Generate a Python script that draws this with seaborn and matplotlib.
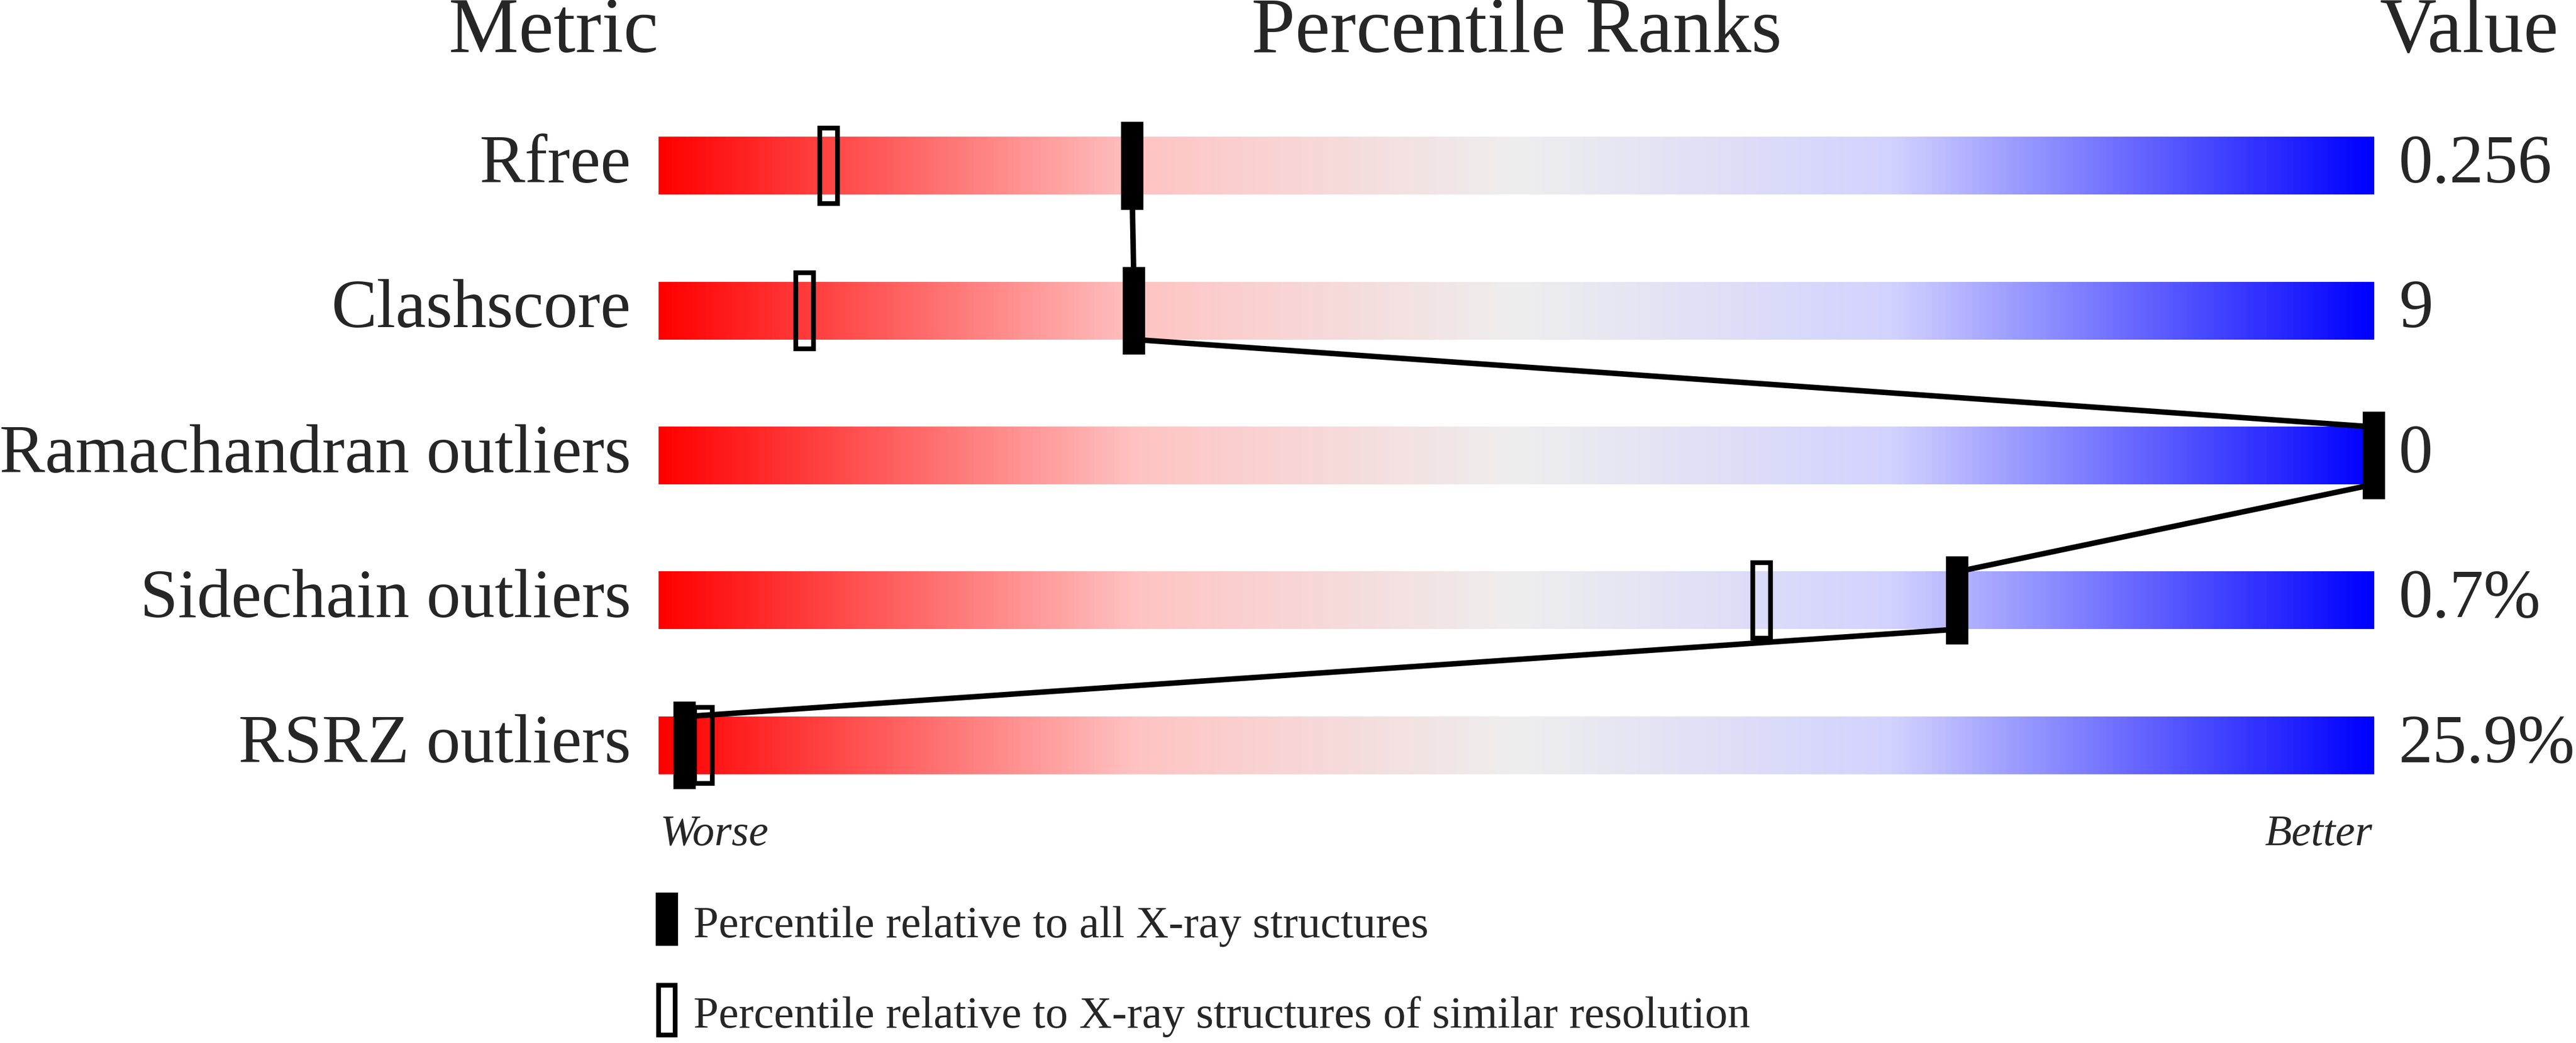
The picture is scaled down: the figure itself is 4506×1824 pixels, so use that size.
import matplotlib
matplotlib.use("Agg")
import matplotlib.pyplot as plt
import numpy as np
import seaborn as sns
from matplotlib.colors import LinearSegmentedColormap
from matplotlib.patches import Rectangle

sns.set_theme(style="white")
plt.rcParams['font.family'] = ['Liberation Serif', 'DejaVu Serif']

metrics = ["Rfree", "Clashscore", "Ramachandran outliers", "Sidechain outliers", "RSRZ outliers"]
values = ["0.256", "9", "0", "0.7%", "25.9%"]
pct_all = [27.6, 27.7, 100.0, 75.7, 1.5]
pct_similar = [9.9, 8.5, None, 64.3, 2.6]

cmap = LinearSegmentedColormap.from_list(
    "pr", [(0.0, "#ff0000"), (0.28, "#ffc4c4"), (0.5, "#eeeeee"), (0.72, "#d2d2ff"), (1.0, "#0000ff")])

W, H = 1568, 635  # layout units (display px)
fig = plt.figure(figsize=(15.02, 6.08), dpi=300)
x0, x1 = 401, 1445
ax = fig.add_axes([x0 / W, 0, (x1 - x0) / W, 1])
row0, step = 101, 88.2
ax.set_xlim(0, 100)
ax.set_ylim((H - row0) / step, -row0 / step)
ax.axis("off")

bar_h = 35 / step
grad = np.linspace(0, 1, 512).reshape(1, -1)
for i in range(len(metrics)):
    ax.imshow(grad, cmap=cmap, aspect="auto", extent=(0, 100, i + bar_h / 2, i - bar_h / 2), zorder=1)

pxw = 100 / (x1 - x0)
bw, bh = 12 * pxw, 52 / step
ow, oh = 11 * pxw, 46 / step
# connecting line between bar edges, underneath markers
for i in range(len(pct_all) - 1):
    ax.plot([pct_all[i], pct_all[i + 1]], [i + bar_h / 2, i + 1 - bar_h / 2], color="black",
            lw=2.3, zorder=2, clip_on=False)
for i, p in enumerate(pct_similar):
    if p is None:
        continue
    ax.add_patch(Rectangle((p - ow / 2, i - oh / 2), ow, oh, facecolor="none",
                           edgecolor="black", lw=2.0, zorder=3, clip_on=False))
for i, p in enumerate(pct_all):
    ax.add_patch(Rectangle((p - bw / 2, i - bh / 2), bw, bh, facecolor="black",
                           edgecolor="black", lw=1, zorder=4, clip_on=False))

# text
fig.text(337 / W, 1 - 20 / H, "Metric", ha="center", va="center", fontsize=33)
fig.text(923 / W, 1 - 20 / H, "Percentile Ranks", ha="center", va="center", fontsize=33)
fig.text(1503 / W, 1 - 20 / H, "Value", ha="center", va="center", fontsize=33)
for i, (m, v) in enumerate(zip(metrics, values)):
    y = 1 - (row0 + step * i) / H
    fig.text(384 / W, y, m, ha="right", va="center", fontsize=28.7)
    fig.text(1460 / W, y, v, ha="left", va="center", fontsize=28.7)
fig.text(402 / W, 1 - 508 / H, "Worse", ha="left", va="center", fontsize=18.5, style="italic")
fig.text(1444 / W, 1 - 508 / H, "Better", ha="right", va="center", fontsize=18.5, style="italic")

# legend
lax = fig.add_axes([0, 0, 1, 1])
lax.set_xlim(0, W)
lax.set_ylim(H, 0)
lax.axis("off")
lax.add_patch(Rectangle((400, 544), 12, 31, facecolor="black", edgecolor="black"))
lax.add_patch(Rectangle((401, 600), 10, 30, facecolor="none", edgecolor="black", lw=2.0))
fig.text(422 / W, 1 - 564 / H, "Percentile relative to all X-ray structures", ha="left", va="center", fontsize=19)
fig.text(422 / W, 1 - 619 / H, "Percentile relative to X-ray structures of similar resolution",
         ha="left", va="center", fontsize=19)

fig.savefig("out.png", dpi=300)
